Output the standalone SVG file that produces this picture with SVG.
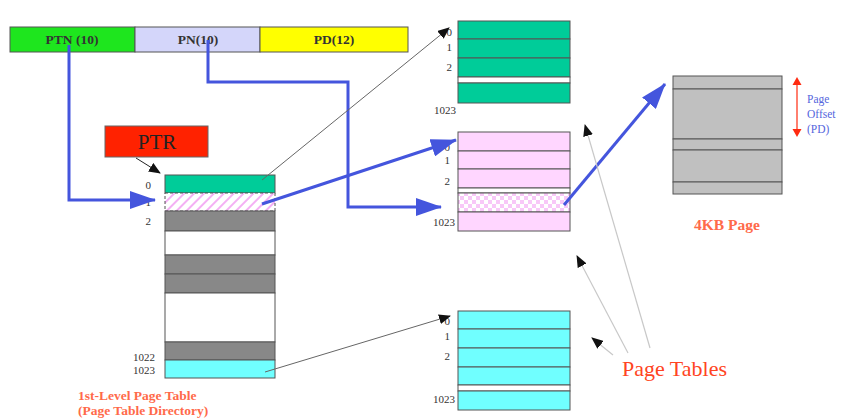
<svg xmlns="http://www.w3.org/2000/svg" width="854" height="420" viewBox="0 0 854 420">
<style>
text{font-family:"Liberation Serif","Times New Roman",serif}
.idx{font-size:11px;fill:#333;text-anchor:end}
.bar{font-size:13.5px;font-weight:bold;fill:#333;text-anchor:middle}
.cell{stroke:#555;stroke-width:1}
.blue{fill:none;stroke:#4455dd;stroke-width:3}
.thin{fill:none;stroke:#666;stroke-width:1}
.pt{fill:none;stroke:#c8c8c8;stroke-width:1.2}
.salmon{fill:#ff6a4a;font-weight:bold}
</style>
<defs>
<marker id="ab" markerUnits="userSpaceOnUse" markerWidth="26" markerHeight="18" refX="25" refY="9" orient="auto"><path d="M0,0 L26,9 L0,18 Z" fill="#4455dd"/></marker>
<marker id="ak" markerUnits="userSpaceOnUse" markerWidth="12" markerHeight="10" refX="11" refY="5" orient="auto"><path d="M0,0 L12,5 L0,10 Z" fill="#111"/></marker>
<pattern id="hatch" width="7" height="7" patternUnits="userSpaceOnUse" patternTransform="rotate(45)"><rect width="7" height="7" fill="#fff"/><line x1="1" y1="0" x2="1" y2="7" stroke="#f4b0f4" stroke-width="2"/></pattern>
<pattern id="check" width="8" height="8" patternUnits="userSpaceOnUse"><rect width="8" height="8" fill="#fff"/><rect width="4" height="4" fill="#f8c8f8"/><rect x="4" y="4" width="4" height="4" fill="#f8c8f8"/></pattern>
</defs>

<g id="address">
<rect x="10" y="27" width="125" height="25" fill="#1ee61e" class="cell"/>
<rect x="135" y="27" width="125" height="25" fill="#d4d6fa" class="cell"/>
<rect x="260" y="27" width="148" height="25" fill="#ffff00" class="cell"/>
<text x="72" y="44" class="bar">PTN (10)</text>
<text x="198" y="44" class="bar">PN(10)</text>
<text x="334" y="44" class="bar">PD(12)</text>
</g>

<g id="ptr">
<rect x="105" y="126" width="103" height="31" fill="#ff2200" stroke="#666"/>
<text x="157" y="149" text-anchor="middle" font-size="21" fill="#222">PTR</text>
</g>

<g id="dir">
<rect x="165" y="175" width="110" height="18" fill="#00cc99" class="cell"/>
<rect x="165" y="193" width="110" height="18" fill="url(#hatch)" class="cell" stroke-dasharray="3,2"/>
<rect x="165" y="211" width="110" height="20" fill="#888" class="cell"/>
<rect x="165" y="231" width="110" height="24" fill="#fff" class="cell"/>
<rect x="165" y="255" width="110" height="19" fill="#888" class="cell"/>
<rect x="165" y="274" width="110" height="19" fill="#888" class="cell"/>
<rect x="165" y="293" width="110" height="49" fill="#fff" class="cell"/>
<rect x="165" y="342" width="110" height="18" fill="#888" class="cell"/>
<rect x="165" y="360" width="110" height="18" fill="#70ffff" class="cell"/>
<text x="151" y="189" class="idx">0</text>
<text x="151" y="206" class="idx">1</text>
<text x="151" y="225" class="idx">2</text>
<text x="155" y="361" class="idx">1022</text>
<text x="155" y="374" class="idx">1023</text>
<text x="78" y="400" font-size="13.5" class="salmon">1st-Level Page Table</text>
<text x="78" y="415" font-size="13.5" class="salmon">(Page Table Directory)</text>
</g>

<g id="pt0">
<rect x="458" y="21" width="112" height="18" fill="#00cc99" class="cell"/>
<rect x="458" y="39" width="112" height="19" fill="#00cc99" class="cell"/>
<rect x="458" y="58" width="112" height="19" fill="#00cc99" class="cell"/>
<rect x="458" y="77" width="112" height="6" fill="#fff" class="cell"/>
<rect x="458" y="83" width="112" height="20" fill="#00cc99" class="cell"/>
<text x="452" y="36" class="idx">0</text>
<text x="452" y="51" class="idx">1</text>
<text x="452" y="71" class="idx">2</text>
<text x="456" y="114" class="idx">1023</text>
</g>

<g id="pt1">
<rect x="458" y="132" width="112" height="19" fill="#ffd6ff" class="cell"/>
<rect x="458" y="151" width="112" height="18" fill="#ffd6ff" class="cell"/>
<rect x="458" y="169" width="112" height="19" fill="#ffd6ff" class="cell"/>
<rect x="458" y="188" width="112" height="5" fill="#fff" class="cell"/>
<rect x="458" y="193" width="112" height="19" fill="url(#check)" class="cell"/>
<rect x="458" y="212" width="112" height="19" fill="#ffd6ff" class="cell"/>
<text x="450" y="151" class="idx">0</text>
<text x="450" y="164" class="idx">1</text>
<text x="450" y="185" class="idx">2</text>
<text x="455" y="226" class="idx">1023</text>
</g>

<g id="pt1023">
<rect x="458" y="311" width="112" height="18" fill="#70ffff" class="cell"/>
<rect x="458" y="329" width="112" height="19" fill="#70ffff" class="cell"/>
<rect x="458" y="348" width="112" height="19" fill="#70ffff" class="cell"/>
<rect x="458" y="367" width="112" height="18" fill="#70ffff" class="cell"/>
<rect x="458" y="385" width="112" height="6" fill="#fff" class="cell"/>
<rect x="458" y="391" width="112" height="19" fill="#70ffff" class="cell"/>
<text x="450" y="325" class="idx">0</text>
<text x="450" y="340" class="idx">1</text>
<text x="450" y="360" class="idx">2</text>
<text x="455" y="403" class="idx">1023</text>
</g>

<g id="page">
<rect x="673" y="76" width="109" height="13" fill="#c0c0c0" class="cell"/>
<rect x="673" y="89" width="109" height="50" fill="#c0c0c0" class="cell"/>
<rect x="673" y="139" width="109" height="11" fill="#c0c0c0" class="cell"/>
<rect x="673" y="150" width="109" height="32" fill="#c0c0c0" class="cell"/>
<rect x="673" y="182" width="109" height="12" fill="#c0c0c0" class="cell"/>
<text x="727" y="230" text-anchor="middle" font-size="15.5" class="salmon">4KB Page</text>
<line x1="797" y1="84" x2="797" y2="130" stroke="#ff2a10" stroke-width="1.2"/>
<polygon points="797,77 792.5,85 801.5,85" fill="#ff2a10"/>
<polygon points="797,137 792.5,129 801.5,129" fill="#ff2a10"/>
<text x="807" y="103" font-size="11.5" fill="#5566dd">Page</text>
<text x="807" y="118" font-size="11.5" fill="#5566dd">Offset</text>
<text x="807" y="133" font-size="11.5" fill="#5566dd">(PD)</text>
</g>

<g id="label">
<text x="622" y="376" font-size="22" fill="#ff4422">Page Tables</text>
</g>

<g id="connectors">
<line x1="136" y1="158" x2="160" y2="173" stroke="#222" stroke-width="1" marker-end="url(#ak)"/>
<polyline points="69,45 69,200 155,200" class="blue" marker-end="url(#ab)"/>
<polyline points="208,40 208,82 348,82 348,207 441,207" class="blue" marker-end="url(#ab)"/>
<line x1="262" y1="204" x2="456" y2="140" class="blue" marker-end="url(#ab)"/>
<line x1="564" y1="205" x2="665" y2="84" class="blue" marker-end="url(#ab)"/>
<line x1="262" y1="180" x2="449" y2="28" class="thin" marker-end="url(#ak)"/>
<line x1="265" y1="372" x2="450" y2="316" class="thin" marker-end="url(#ak)"/>
<line x1="650" y1="348" x2="585" y2="125" class="pt" marker-end="url(#ak)"/>
<line x1="628" y1="353" x2="577" y2="256" class="pt" marker-end="url(#ak)"/>
<line x1="613" y1="355" x2="592" y2="338" class="pt" marker-end="url(#ak)"/>
</g>
</svg>
